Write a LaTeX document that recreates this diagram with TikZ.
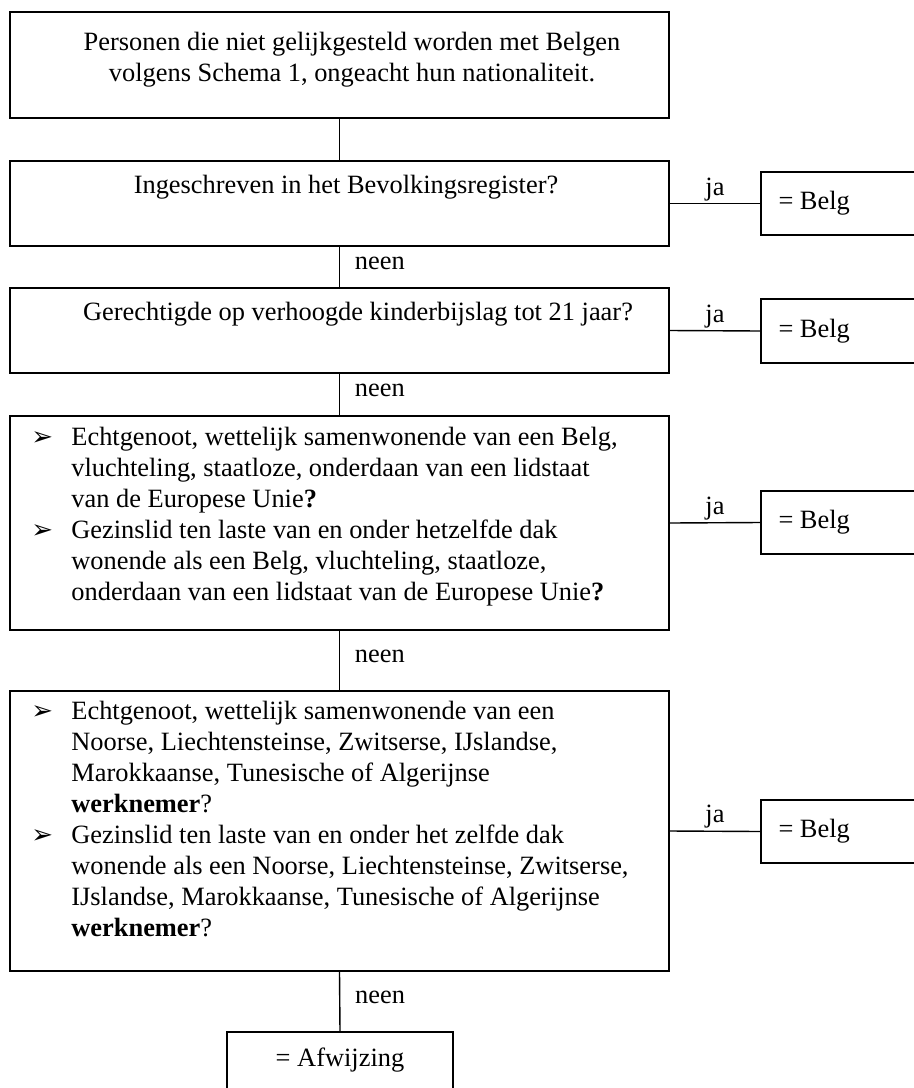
\documentclass[tikz,border=0pt]{standalone}
\usepackage{fontspec}
\setmainfont{Liberation Serif}
\newfontfamily\pijlfont{DejaVu Sans}
\usetikzlibrary{fit,positioning}

\definecolor{schema@ink}{RGB}{0,0,0}

% bullet and hanging indent for the list boxes
\newcommand{\pijl}{\makebox[20pt][l]{\pijlfont\bfseries\fontsize{13}{13}\selectfont ➢}}
\newcommand{\inspring}{\hspace*{20pt}}

\begin{document}
\begin{tikzpicture}[x=0.5pt, y=-0.5pt, font=\fontsize{13.2}{15.5}\selectfont,
    kader/.style={draw=schema@ink, line width=0.9pt, inner sep=0pt},
    lijn/.style={draw=schema@ink, line width=0.7pt},
    jatekst/.style={above, inner sep=1pt},
    neentekst/.style={right, xshift=4pt, yshift=2pt},
    vraag/.style={inner sep=0pt, align=center},
    lijst/.style={inner sep=0pt, anchor=north west, align=left}]

  % Page window = clip, so the open right side of the outcome boxes runs off
  \path[use as bounding box] (0,0) rectangle (914,1088);
  \clip (0,0) rectangle (914,1088);

  % ---- QUESTION BOXES ----
  \foreach \naam/\boven/\onder in {q1/12/118, q2/161/246, q3/288/373, q4/416/630, q5/691/971} {
    \node[kader, fit={(10,\boven) (669,\onder)}] (\naam) {};
  }

  % ---- OUTCOME BOXES (right side bleeds off the page) ----
  \foreach \naam/\boven/\onder in {b1/172/235, b2/299/363, b3/491/554, b4/800/863} {
    \node[kader, fit={(761,\boven) (940,\onder)}] (\naam) {};
    \node[right=9pt of \naam.west, inner sep=0pt] (\naam-t) {= Belg};
  }
  \node[kader, fit={(227,1032) (453,1110)}] (afw) {};
  \node[inner sep=0pt] (afw-t) at (340,1060) {= Afwijzing};

  % ---- QUESTION TEXTS ----
  \node[vraag] (t1) at (352,60)
    {Personen die niet gelijkgesteld worden met Belgen\\
     volgens Schema 1, ongeacht hun nationaliteit.};
  \node[vraag] (t2) at (346,187) {Ingeschreven in het Bevolkingsregister?};
  \node[vraag] (t3) at (358,314) {Gerechtigde op verhoogde kinderbijslag tot 21 jaar?};

  \node[lijst] (t4) at (31,427)
    {\pijl Echtgenoot, wettelijk samenwonende van een Belg,\\
     \inspring vluchteling, staatloze, onderdaan van een lidstaat\\
     \inspring van de Europese Unie\textbf{?}\\
     \pijl Gezinslid ten laste van en onder hetzelfde dak\\
     \inspring wonende als een Belg, vluchteling, staatloze,\\
     \inspring onderdaan van een lidstaat van de Europese Unie\textbf{?}};

  \node[lijst] (t5) at (31,701)
    {\pijl Echtgenoot, wettelijk samenwonende van een\\
     \inspring Noorse, Liechtensteinse, Zwitserse, IJslandse,\\
     \inspring Marokkaanse, Tunesische of Algerijnse\\
     \inspring \textbf{werknemer}?\\
     \pijl Gezinslid ten laste van en onder het zelfde dak\\
     \inspring wonende als een Noorse, Liechtensteinse, Zwitserse,\\
     \inspring IJslandse, Marokkaanse, Tunesische of Algerijnse\\
     \inspring \textbf{werknemer}?};

  % ---- CONNECTORS ----
  \draw[lijn] (q1.south) -- (q2.north);
  \foreach \van/\naar [count=\i] in {q2/q3, q3/q4, q4/q5, q5/afw}
    \draw[lijn] (\van.south) -- node[neentekst] (neen\i) {neen} (\naar.north);
  \foreach \van/\naar [count=\i] in {q2/b1, q3/b2, q4/b3, q5/b4}
    \draw[lijn] (\van.east) -- node[jatekst] (ja\i) {ja} (\naar.west);
\end{tikzpicture}
\end{document}
